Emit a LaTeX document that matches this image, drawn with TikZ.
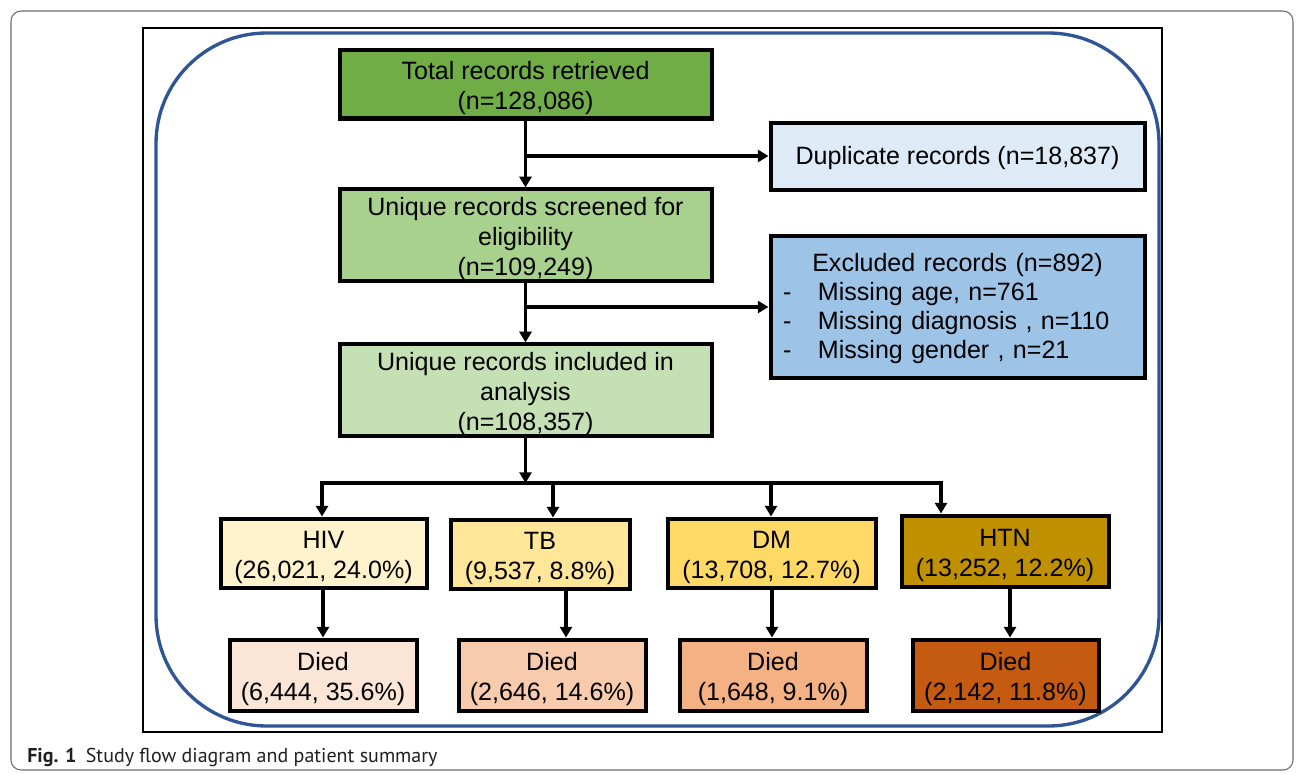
\documentclass[tikz,border=0pt]{standalone}
\usepackage{fontspec}
\setmainfont{Liberation Sans}
\newfontfamily\capfont{PT Sans}
\usetikzlibrary{arrows.meta}
\newcommand\fstrut{\rule{0pt}{19.5pt}}
\definecolor{cTotal}{HTML}{70AD47}
\definecolor{cScreen}{HTML}{A9D18E}
\definecolor{cIncl}{HTML}{C5E0B4}
\definecolor{cDup}{HTML}{DEEBF7}
\definecolor{cExcl}{HTML}{9DC3E6}
\definecolor{cHIV}{HTML}{FFF2CC}
\definecolor{cTB}{HTML}{FFE699}
\definecolor{cDM}{HTML}{FFD966}
\definecolor{cHTN}{HTML}{BF9000}
\definecolor{cdHIV}{HTML}{FBE5D6}
\definecolor{cdTB}{HTML}{F8CBAD}
\definecolor{cdDM}{HTML}{F4B183}
\definecolor{cdHTN}{HTML}{C55A11}
\definecolor{frameblue}{HTML}{2F5597}
\definecolor{cardgray}{HTML}{6E6E6E}
\definecolor{captext}{HTML}{231F20}
\begin{document}
\begin{tikzpicture}[x=0.75pt,y=-0.75pt,
  box/.style={draw=black,line width=3pt,inner sep=0pt,align=center,
    font=\fontsize{18.8}{22.5}\selectfont},
  arr/.style={line width=2.3pt,-{Triangle[width=9pt,length=8pt]}},
  ln/.style={line width=2.3pt}]
\useasboundingbox (0,0) rectangle (1296,774);
\fill[white] (0,0) rectangle (1296,774);
% card and frames
\draw[cardgray,line width=0.8pt,rounded corners=7.5pt] (11,11) rectangle (1293,770);
\draw[black,line width=1.7pt] (143,28) rectangle (1162,732);
\draw[frameblue,line width=2.5pt,rounded corners=83pt] (156,33) rectangle (1159,726);
% boxes
\node[box,fill=cTotal,minimum width=279pt,minimum height=51pt] (total) at (525.5,84.5)
  {\fstrut Total records retrieved\\(n=128,086)};
\node[box,fill=cDup,minimum width=280.5pt,minimum height=50.25pt] (dup) at (957.5,156)
  {\rule{0pt}{17pt}Duplicate records (n=18,837)};
\node[box,fill=cScreen,minimum width=279pt,minimum height=66.75pt] (screen) at (525.5,235)
  {\fstrut Unique records screened for\\eligibility\\(n=109,249)};
\node[box,fill=cExcl,minimum width=280.5pt,minimum height=106.5pt,text width=280.5pt,
  align=left,font=\fontsize{18.8}{21.75}\selectfont] (excl) at (957.5,306.5)
  {\rule{0pt}{16.5pt}\makebox[280.5pt]{Excluded records (n=892)}\\
   \hspace*{9.4pt}\makebox[26.2pt][l]{-}Missing age, n=761\\
   \hspace*{9.4pt}\makebox[26.2pt][l]{-}Missing diagnosis , n=110\\
   \hspace*{9.4pt}\makebox[26.2pt][l]{-}Missing gender , n=21};
\node[box,fill=cIncl,minimum width=279pt,minimum height=68.25pt] (incl) at (525.5,390)
  {\fstrut Unique records included in\\analysis\\(n=108,357)};
\node[box,fill=cHIV,minimum width=154.5pt,minimum height=51.75pt] (hiv) at (323.5,553)
  {\fstrut HIV\\(26,021, 24.0\%)};
\node[box,fill=cTB,minimum width=134.25pt,minimum height=51.75pt] (tb) at (540,554)
  {\fstrut TB\\(9,537, 8.8\%)};
\node[box,fill=cDM,minimum width=156pt,minimum height=51.75pt] (dm) at (771.5,553)
  {\fstrut DM\\(13,708, 12.7\%)};
\node[box,fill=cHTN,minimum width=155.25pt,minimum height=53.25pt] (htn) at (1005,551)
  {\fstrut HTN\\(13,252, 12.2\%)};
\node[box,fill=cdHIV,minimum width=140.25pt,minimum height=53.25pt] (dhiv) at (323,675)
  {\fstrut Died\\(6,444, 35.6\%)};
\node[box,fill=cdTB,minimum width=140.25pt,minimum height=53.25pt] (dtb) at (552,675)
  {\fstrut Died\\(2,646, 14.6\%)};
\node[box,fill=cdDM,minimum width=140.25pt,minimum height=53.25pt] (ddm) at (773,675)
  {\fstrut Died\\(1,648, 9.1\%)};
\node[box,fill=cdHTN,minimum width=139.5pt,minimum height=53.25pt] (dhtn) at (1005.5,675)
  {\fstrut Died\\(2,142, 11.8\%)};
% connectors
\coordinate (b1) at (525.5,156);
\coordinate (b2) at (525.5,307);
\draw[arr] (total) -- (screen);
\draw[arr] (b1) -- (dup.west |- b1);
\draw[arr] (screen) -- (incl);
\draw[arr] (b2) -- (excl.west |- b2);
\coordinate (split) at (525.5,483);
\coordinate (sl) at (322,483);
\coordinate (sr) at (941,483);
\coordinate (tTB) at (553,483);
\coordinate (tDM) at (771,483);
\draw[arr] (incl) -- (split);
\draw[arr] (tTB) -- (sl) -- (hiv.north -| sl);
\draw[arr] (tTB) -- (sr) -- (htn.north -| sr);
\draw[arr] (tTB) -- (tb.north -| tTB);
\draw[arr] (tDM) -- (dm.north -| tDM);
\coordinate (xHIV) at (323,0);
\coordinate (xTB) at (566,0);
\coordinate (xDM) at (772,0);
\coordinate (xHTN) at (1010,0);
\draw[arr] (hiv.south -| xHIV) -- (dhiv.north -| xHIV);
\draw[arr] (tb.south -| xTB) -- (dtb.north -| xTB);
\draw[arr] (dm.south -| xDM) -- (ddm.north -| xDM);
\draw[arr] (htn.south -| xHTN) -- (dhtn.north -| xHTN);
% caption
\node[anchor=base west,inner sep=0pt,text=captext,font=\capfont\fontsize{15}{18}\selectfont] (cap) at (27,762)
  {\textbf{Fig. 1}\hspace{7pt}Study flow diagram and patient summary};
\end{tikzpicture}
\end{document}
